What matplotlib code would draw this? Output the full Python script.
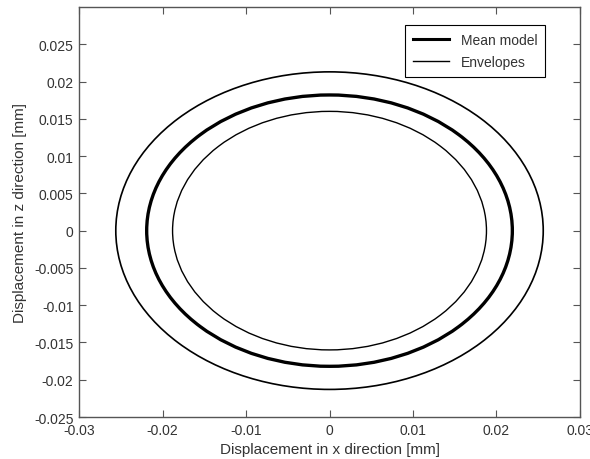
import matplotlib
matplotlib.use("Agg")
import matplotlib.pyplot as plt
from matplotlib.patches import Ellipse
from matplotlib.lines import Line2D

plt.rcParams['font.family'] = ['Liberation Sans', 'DejaVu Sans']

# ellipse semi-axes [mm]
curves = ['Outer envelope', 'Mean model', 'Inner envelope']
x_radius = [0.0256, 0.0219, 0.0188]
z_radius = [0.0213, 0.0182, 0.0160]
x_center = [0.0, 0.0, 0.0]
z_center = [0.0, 0.0, 0.0]
widths = [1.2, 2.4, 1.0]

xticks = [-0.03, -0.02, -0.01, 0, 0.01, 0.02, 0.03]
xticklabels = ['-0.03', '-0.02', '-0.01', '0', '0.01', '0.02', '0.03']
yticks = [-0.025, -0.02, -0.015, -0.01, -0.005, 0, 0.005, 0.01, 0.015, 0.02, 0.025]
yticklabels = ['-0.025', '-0.02', '-0.015', '-0.01', '-0.005', '0',
               '0.005', '0.01', '0.015', '0.02', '0.025']

fig = plt.figure(figsize=(5.9, 4.6), dpi=100)
ax = fig.add_axes([0.134, 0.0913, 0.849, 0.8913])

for xc, zc, rx, rz, lw in zip(x_center, z_center, x_radius, z_radius, widths):
    ax.add_patch(Ellipse((xc, zc), 2 * rx, 2 * rz, fill=False,
                         edgecolor='black', linewidth=lw))

ax.set_xlim(-0.03, 0.03)
ax.set_ylim(-0.025, 0.03)
ax.set_xticks(xticks)
ax.set_xticklabels(xticklabels)
ax.set_yticks(yticks)
ax.set_yticklabels(yticklabels)
ax.tick_params(direction='in', length=5, width=0.8, top=True, right=True,
               labelsize=10, labelcolor='#333333', color='#555555', pad=4)
for s in ax.spines.values():
    s.set_color('#555555')
    s.set_linewidth(1.0)

ax.set_xlabel('Displacement in x direction [mm]', fontsize=11, color='#333333', labelpad=4)
ax.set_ylabel('Displacement in z direction [mm]', fontsize=11, color='#333333', labelpad=5)

handles = [Line2D([], [], color='black', linewidth=2.2),
           Line2D([], [], color='black', linewidth=1.0)]
leg = ax.legend(handles, ['Mean model', 'Envelopes'], loc='upper right',
                bbox_to_anchor=(0.945, 0.974), fontsize=10, fancybox=False,
                edgecolor='black', framealpha=1, handlelength=2.6,
                borderpad=0.6, labelspacing=0.55, handletextpad=0.8)
leg.get_frame().set_linewidth(0.8)
for t in leg.get_texts():
    t.set_color('#333333')

plt.savefig('out.png', dpi=100)
plt.close()
